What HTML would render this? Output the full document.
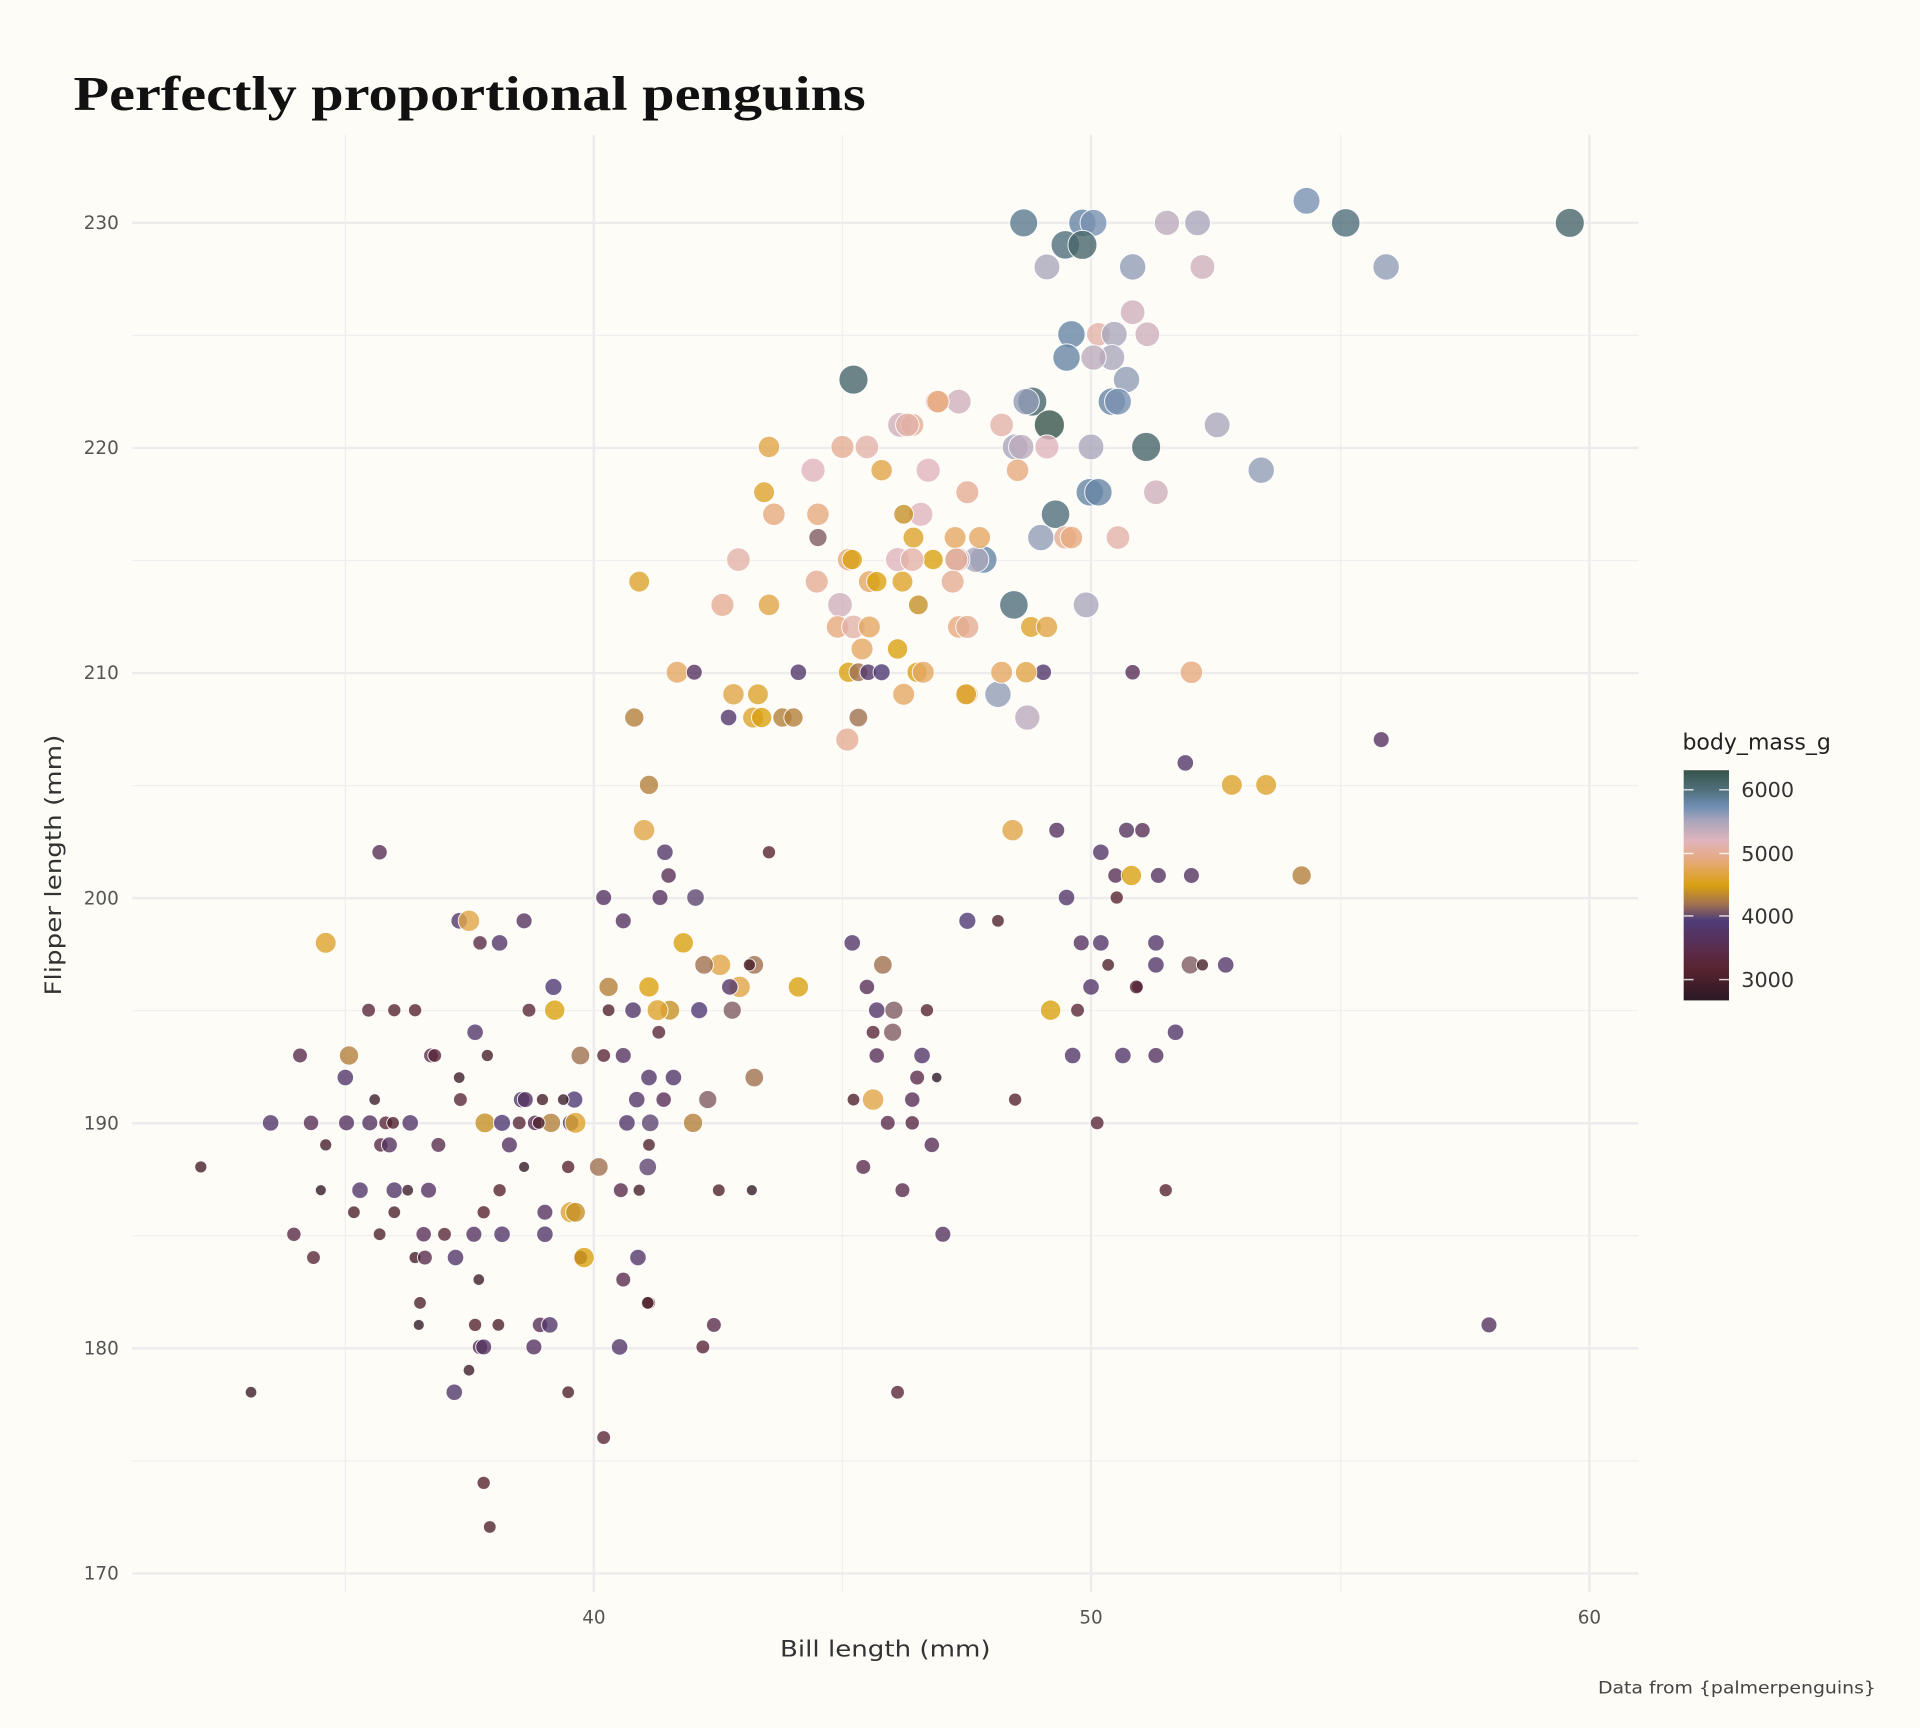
<!DOCTYPE html>
<html><head><meta charset="utf-8">
<style>
html,body{margin:0;padding:0;background:#fdfcf7;}
svg{display:block;}
text{font-family:"DejaVu Sans","Liberation Sans",sans-serif;}
</style></head>
<body>
<svg id="s" width="1920" height="1728" viewBox="0 0 1568 1411.2" preserveAspectRatio="none" xmlns="http://www.w3.org/2000/svg">
<defs>
<linearGradient id="cb" x1="0" y1="0" x2="0" y2="1">
<stop offset="0" stop-color="#36544a"/>
<stop offset="0.083" stop-color="#4f6e7a"/>
<stop offset="0.153" stop-color="#6d8cb0"/>
<stop offset="0.222" stop-color="#aaa6bc"/>
<stop offset="0.306" stop-color="#e0b4bc"/>
<stop offset="0.389" stop-color="#e6aa7e"/>
<stop offset="0.5" stop-color="#d9a010"/>
<stop offset="0.583" stop-color="#a07050"/>
<stop offset="0.653" stop-color="#4e3c78"/>
<stop offset="0.778" stop-color="#5a2c4c"/>
<stop offset="0.861" stop-color="#582430"/>
<stop offset="1" stop-color="#2a1824"/>
</linearGradient>
</defs>
<rect width="1568" height="1411.2" fill="#fdfcf7"/>
<g id="grid"></g>
<g id="pts"></g>
<text x="60" y="90" font-weight="bold" font-size="40" fill="#111" textLength="647" lengthAdjust="spacingAndGlyphs" style="font-family:'Liberation Serif',serif">Perfectly proportional penguins</text>
<g id="lab" font-size="15" fill="#555"></g>
<text x="637" y="1353" font-size="18" fill="#333" textLength="172" lengthAdjust="spacingAndGlyphs">Bill length (mm)</text>
<text transform="translate(50,813) rotate(-90)" font-size="18" fill="#333" textLength="213" lengthAdjust="spacingAndGlyphs">Flipper length (mm)</text>
<text x="1305" y="1383" font-size="14" fill="#444" textLength="227" lengthAdjust="spacingAndGlyphs">Data from {palmerpenguins}</text>
<text x="1374" y="612" font-size="18" fill="#222">body_mass_g</text>
<rect x="1375" y="629" width="37" height="188" fill="url(#cb)"/>
<g stroke="#fff" stroke-width="1.2" opacity="0.8">
<line x1="1375" y1="645" x2="1383" y2="645"/><line x1="1404" y1="645" x2="1412" y2="645"/>
<line x1="1375" y1="697" x2="1383" y2="697"/><line x1="1404" y1="697" x2="1412" y2="697"/>
<line x1="1375" y1="748" x2="1383" y2="748"/><line x1="1404" y1="748" x2="1412" y2="748"/>
<line x1="1375" y1="800" x2="1383" y2="800"/><line x1="1404" y1="800" x2="1412" y2="800"/>
</g>
<g font-size="17" fill="#333">
<text x="1422" y="651">6000</text><text x="1422" y="703">5000</text><text x="1422" y="754">4000</text><text x="1422" y="806">3000</text>
</g>
</svg>
<script>
var NS="http://www.w3.org/2000/svg";
function el(t,a,p){var e=document.createElementNS(NS,t);for(var k in a)e.setAttribute(k,a[k]);p.appendChild(e);return e;}
var g=document.getElementById('grid'),lab=document.getElementById('lab');
var X0=108,X1=1338,Y0=110,Y1=1300;
[282,688,1095].forEach(function(x){el('line',{x1:x,x2:x,y1:Y0,y2:Y1,stroke:'#efefef','stroke-width':1},g);});
for(var v=175;v<=225;v+=10){var y=182+(230-v)*18.383;el('line',{x1:X0,x2:X1,y1:y,y2:y,stroke:'#efefef','stroke-width':1},g);}
[[485,40],[891,50],[1298,60]].forEach(function(a){el('line',{x1:a[0],x2:a[0],y1:Y0,y2:Y1,stroke:'#ececec','stroke-width':2},g);var t=el('text',{x:a[0],y:1326,'text-anchor':'middle'},lab);t.textContent=a[1];});
for(var v=170;v<=230;v+=10){var y=182+(230-v)*18.383;el('line',{x1:X0,x2:X1,y1:y,y2:y,stroke:'#ececec','stroke-width':2},g);var t=el('text',{x:97,y:y+5,'text-anchor':'end'},lab);t.textContent=v;}
var stops=[[6300,'#36544a'],[6000,'#4f6e7a'],[5750,'#6d8cb0'],[5500,'#aaa6bc'],[5200,'#e0b4bc'],[4900,'#e6aa7e'],[4500,'#d9a010'],[4200,'#a07050'],[3950,'#4e3c78'],[3500,'#5a2c4c'],[3200,'#582430'],[2700,'#2a1824']];
function hx(c){return[parseInt(c.substr(1,2),16),parseInt(c.substr(3,2),16),parseInt(c.substr(5,2),16)];}
function col(m){if(m>=6300)return stops[0][1];if(m<=2700)return stops[stops.length-1][1];
for(var i=0;i<stops.length-1;i++){var a=stops[i],b=stops[i+1];if(m<=a[0]&&m>=b[0]){var t=(a[0]-m)/(a[0]-b[0]);var A=hx(a[1]),B=hx(b[1]);return 'rgb('+[0,1,2].map(function(k){return Math.round(A[k]+(B[k]-A[k])*t)}).join(',')+')';}}}
var P=[[836,182,5900],[884,182,5800],[893,182,5700],[870,200,6000],[884,200,6100],[855,218,5500],[925,218,5600],[953,182,5400],[978,182,5500],[982,218,5300],[1067,164,5700],[1099,182,6000],[1132,218,5600],[1282,182,6100],
[875,273,5800],[897,273,5100],[910,273,5500],[925,255,5300],[937,273,5300],[871,292,5800],[908,292,5500],[893,292,5400],[920,310,5600],[908,328,5800],[913,328,5700],[843,328,6100],[838,328,5600],[697,310,6100],[783,328,5300],[765,328,5000],[735,347,5300],[745,347,5000],[818,347,5100],[829,365,5500],[834,365,5400],[857,347,6300],[855,365,5200],[891,365,5500],[936,365,6100],[994,347,5500],[1030,384,5600],[890,402,5800],[897,402,5800],[944,402,5300],[913,439,5100],[862,420,6000],[850,439,5600],[870,439,5000],[875,439,4900],[803,457,5800],[797,457,5500],[782,457,5300],[828,494,6000],[887,494,5500],[842,512,4600],[855,512,4700],[815,567,5600],[839,586,5400],[852,549,3800],[925,549,3600],[973,549,4900],[838,549,4700],[818,549,4800],[790,567,4700],[790,402,5000],[831,384,4900],[628,365,4700],[688,365,5000],[708,365,5100],[664,384,5200],[720,384,4700],[766,328,4900],[741,347,5100],[758,384,5200],[624,402,4600],[632,420,4900],[668,420,4900],[752,420,5200],[668,439,4100],[738,420,4400],[746,439,4600],[800,439,4800],[780,439,4800],[603,457,5100],[693,457,4900],[696,457,4500],[733,457,5200],[762,457,4500],[745,457,5100],[781,457,5000],[522,475,4600],[667,475,5000],[710,475,4800],[716,475,4500],[737,475,4600],[778,475,5000],[590,494,5000],[628,494,4700],[686,494,5300],[750,494,4400],[684,512,4900],[697,512,5100],[710,512,4800],[783,512,4900],[790,512,5000],[704,530,4800],[733,530,4500],[553,549,4800],[567,549,3700],[693,549,4500],[701,549,4200],[709,549,3800],[720,549,3900],[749,549,4500],[754,549,4800],[738,567,4800],[789,567,4600],[599,567,4700],[619,567,4600],[652,549,3800],[595,586,3800],[615,586,4600],[622,586,4500],[639,586,4300],[648,586,4300],[518,586,4300],[701,586,4200],[692,604,5000],[530,641,4300],[526,678,4700],
[1006,641,4600],[1034,641,4600],[1063,715,4300],[968,623,3800],[1128,604,3700],[863,678,3700],[920,678,3700],[933,678,3600],[899,696,3800],[911,715,3600],[924,715,4500],[946,715,3700],[973,715,3700],[827,678,4700],[912,733,3200],[871,733,3800],[790,752,3900],[815,752,3100],[883,770,3700],[899,770,3800],[944,770,3800],[905,788,3100],[972,788,4100],[982,788,3000],[1001,788,3800],[944,788,3800],[891,806,3800],[929,806,3000],[928,806,3300],[880,825,3300],[858,825,4500],[960,843,3800],[876,862,3800],[917,862,3800],[944,862,3700],[829,898,3200],[896,917,3300],[952,972,3200],[1216,1082,3700],
[696,770,3800],[721,788,4200],[708,806,3600],[716,825,3800],[730,825,4100],[713,843,3300],[729,843,4100],[757,825,3200],[716,862,3600],[753,862,3800],[749,880,3500],[765,880,2700],[745,898,3600],[697,898,3100],[713,898,4700],[725,917,3500],[745,917,3400],[761,935,3600],[705,953,3500],[737,972,3500],[770,1008,3700],[733,1137,3300],
[310,696,3600],[266,770,4600],[375,752,3800],[383,752,4700],[428,752,3700],[392,770,3400],[408,770,3800],[493,733,3700],[509,752,3700],[539,733,3700],[568,733,4000],[543,696,3800],[546,715,3600],[628,696,3200],[558,770,4500],[588,788,4700],[575,788,4200],[616,788,4200],[612,788,3000],[530,806,4500],[497,806,4300],[452,806,3900],[652,806,4500],[604,806,4700],[596,806,3800],[547,825,4400],[537,825,4600],[517,825,3800],[571,825,3900],[598,825,4100],[497,825,3100],[453,825,4500],[432,825,3300],[301,825,3300],[322,825,3200],[339,825,3200],[538,843,3300],[388,843,3800],[245,862,3500],[285,862,4300],[352,862,3500],[355,862,3300],[282,880,3800],[375,880,2900],[398,862,3000],[474,862,4200],[509,862,3700],[493,862,3300],[530,880,3800],[550,880,3800],[616,880,4200],[376,898,3300],[306,898,2900],[578,898,4100],[221,917,3800],[254,917,3600],[283,917,3700],[302,917,3700],[315,917,3300],[321,917,3100],[335,917,3800],[396,917,4400],[410,917,3900],[424,917,3300],[437,917,3600],[450,917,4300],[466,917,3800],[470,917,4600],[440,917,3100],[512,917,3800],[531,917,4000],[566,917,4300],[520,898,3800],[542,898,3600],[426,898,3800],[443,898,3000],[469,898,3900],[460,898,2900],[429,898,3700],[266,935,3000],[311,935,3400],[318,935,3700],[358,935,3500],[416,935,3700],[530,935,3100],[529,953,4000],[489,953,4200],[464,953,3200],[428,953,2800],[294,972,3800],[322,972,3800],[350,972,3700],[333,972,2900],[408,972,3200],[262,972,2800],[507,972,3500],[522,972,3000],[587,972,3100],[614,972,2800],[289,990,3100],[322,990,3100],[395,990,3200],[445,990,3700],[466,990,4600],[470,990,4400],[240,1008,3400],[310,1008,3100],[346,1008,3600],[363,1008,3300],[387,1008,3700],[410,1008,3800],[445,1008,3800],[256,1027,3300],[339,1027,3000],[347,1027,3500],[372,1027,3800],[474,1027,3400],[477,1027,4500],[521,1027,3800],[509,1045,3500],[391,1045,2900],[343,1064,3100],[530,1064,3200],[529,1064,3100],[342,1082,2800],[388,1082,3200],[407,1082,3100],[441,1082,3600],[449,1082,3800],[583,1082,3500],[392,1100,3600],[395,1100,3700],[436,1100,3700],[506,1100,3800],[574,1100,3300],[383,1119,2900],[371,1137,3800],[205,1137,2900],[464,1137,3100],[164,953,3000],[493,1174,3300],[395,1211,3200],[400,1247,3100]];
var pg=document.getElementById('pts');
P.forEach(function(p){var r=4.3+(p[2]-2700)/3600*8;el('circle',{cx:p[0],cy:p[1],r:r,fill:col(p[2]),'fill-opacity':0.8,stroke:'#fff','stroke-width':0.8,'stroke-opacity':0.9},pg);});
</script>
</body></html>
